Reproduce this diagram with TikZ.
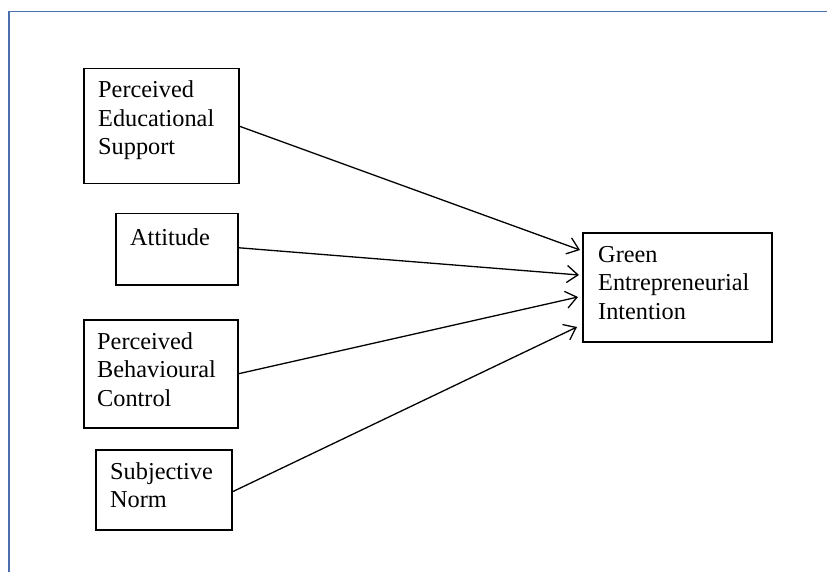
\documentclass[tikz,border=0pt]{standalone}
\usepackage{fontspec}
\setmainfont{Liberation Serif}
\usetikzlibrary{arrows.meta,calc}
\definecolor{framecol}{RGB}{76,110,172}
\tikzset{
  box/.style={draw=black, line width=1.5pt, rectangle, inner sep=0pt, anchor=north west},
  lbl/.style={anchor=base west, align=left, inner sep=0pt, font=\fontsize{24.3}{28.5}\selectfont},
  conn/.style={draw=black, line width=1.3pt, -{Straight Barb[length=11pt,width=17pt,line width=1.3pt]}}
}
\begin{document}
\begin{tikzpicture}[x=1pt,y=-1pt]
\useasboundingbox (0,0) rectangle (827,572);
\fill[white] (0,0) rectangle (827,572);
\draw[framecol, line width=1.8pt] (9,572) -- (9,11.5) -- (827,11.5);
% boxes
\node[box, minimum width=155pt, minimum height=115pt] (pes) at (83,68) {};
\node[box, minimum width=122pt, minimum height=71pt] (att) at (115,213) {};
\node[box, minimum width=154pt, minimum height=108pt] (pbc) at (83,319) {};
\node[box, minimum width=136pt, minimum height=80pt] (sn) at (95,449) {};
\node[box, minimum width=189pt, minimum height=109pt] (gei) at (582,232) {};
% labels (base anchor = baseline of the last line)
\node[lbl] (tpes) at ([shift={(15,87)}]pes.north west) {Perceived\\Educational\\Support};
\node[lbl] (tatt) at ([shift={(15,32)}]att.north west) {Attitude};
\node[lbl] (tpbc) at ([shift={(14,87)}]pbc.north west) {Perceived\\Behavioural\\Control};
\node[lbl] (tsn) at ([shift={(15,58.5)}]sn.north west) {Subjective\\Norm};
\node[lbl] (tgei) at ([shift={(16,87)}]gei.north west) {Green\\Entrepreneurial\\Intention};
% connectors
\draw[conn] (pes.east) -- ([shift={(-2,18)}]gei.north west);
\draw[conn] ([shift={(0,-1.5)}]att.east) -- ([shift={(-3,43)}]gei.north west);
\draw[conn] (pbc.east) -- ([shift={(-4,65)}]gei.north west);
\draw[conn] ([shift={(0,2)}]sn.east) -- ([shift={(-5,95)}]gei.north west);
\end{tikzpicture}
\end{document}
